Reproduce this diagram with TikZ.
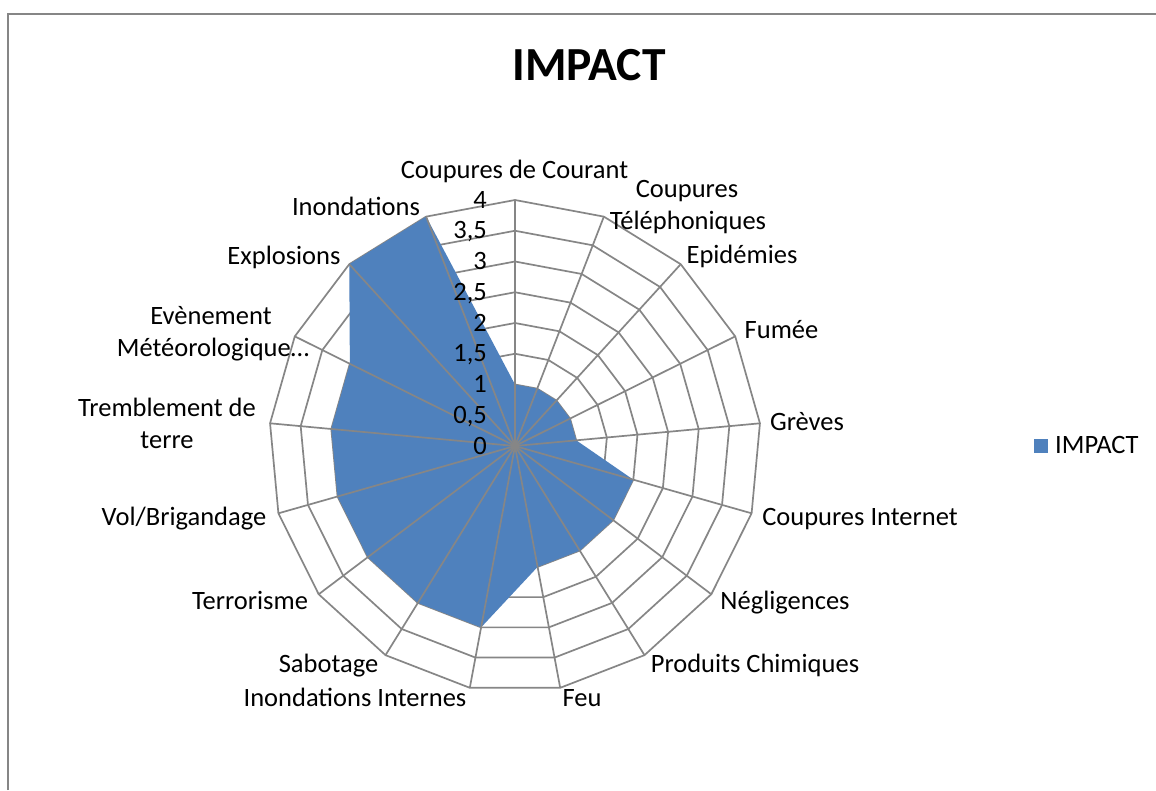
\documentclass[tikz,border=0pt]{standalone}
\usepackage{fontspec}
\setmainfont{Carlito}
\definecolor{gridgray}{HTML}{868686}
\definecolor{series}{HTML}{4F81BD}
\begin{document}
\begin{tikzpicture}[x=1pt,y=-1pt,
  ringline/.style={draw=gridgray,line width=1.7pt},
  lab/.style={inner sep=0pt,anchor=base,font=\fontsize{26.5}{31}\selectfont},
  val/.style={inner sep=0pt,anchor=base east,font=\fontsize{26.5}{31}\selectfont},
]
\useasboundingbox (0,0) rectangle (1156,790);
\fill[white] (0,0) rectangle (1156,790);
\draw[draw=gridgray,line width=2pt] (8,790) -- (8,13.5) -- (1156,13.5);

\coordinate (O) at (515,446);
\foreach \i in {0,...,16}
  \coordinate (s\i) at ({515+246*sin(\i*360/17)},{446-246*cos(\i*360/17)});

% rings
\foreach \k in {1,...,8}
  \draw[ringline,line join=miter] plot[samples at={0,...,16}] ({515+30.75*\k*sin(\x*360/17)},{446-30.75*\k*cos(\x*360/17)}) -- cycle;

% data
\foreach \v [count=\i from 0] in {1,1,1,1,1,2,2,2,2,3,3,3,3,3,3,4,4}
  \coordinate (d\i) at ({515+61.5*\v*sin(\i*360/17)},{446-61.5*\v*cos(\i*360/17)});
\fill[series] (d0) \foreach \i in {1,...,16} { -- (d\i) } -- cycle;

% spokes
\foreach \i in {0,...,16}
  \draw[ringline] (O) -- (s\i);

% value labels
\foreach \k/\t in {0/0,1/{0,5},2/1,3/{1,5},4/2,5/{2,5},6/3,7/{3,5},8/4}
  \node[val] (v\k) at (487,{446-30.75*\k+8}) {\t};

% category labels
\node[lab] (c0) at (514.5,178) {Coupures de Courant};
\node[lab] (c1a) at (687,197) {Coupures};
\node[lab] (c1b) at (688,229) {Téléphoniques};
\node[lab] (c2) at (742,263) {Epidémies};
\node[lab] (c3) at (781.5,338) {Fumée};
\node[lab] (c4) at (807,430) {Grèves};
\node[lab] (c5) at (860,525) {Coupures Internet};
\node[lab] (c6) at (785,609) {Négligences};
\node[lab] (c7) at (755,672) {Produits Chimiques};
\node[lab] (c8) at (582,706) {Feu};
\node[lab] (c9) at (355,706) {Inondations Internes};
\node[lab] (c10) at (328.5,672) {Sabotage};
\node[lab] (c11) at (250,609) {Terrorisme};
\node[lab] (c12) at (184,525) {Vol/Brigandage};
\node[lab] (c13a) at (167,416) {Tremblement de};
\node[lab] (c13b) at (167,448) {terre};
\node[lab] (c14a) at (211,324) {Evènement};
\node[lab] (c14b) at (213,356) {Météorologique…};
\node[lab] (c15) at (284,264) {Explosions};
\node[lab] (c16) at (356,215) {Inondations};

% title
\node[inner sep=0pt,anchor=base,font=\bfseries\fontsize{47.5}{52}\selectfont] (title) at (589,80) {IMPACT};

% legend
\node[fill=series,minimum size=14.5pt,inner sep=0pt] (legkey) at (1041,446) {};
\node[lab,anchor=base west] (legtext) at (1055,453) {IMPACT};
\end{tikzpicture}
\end{document}
